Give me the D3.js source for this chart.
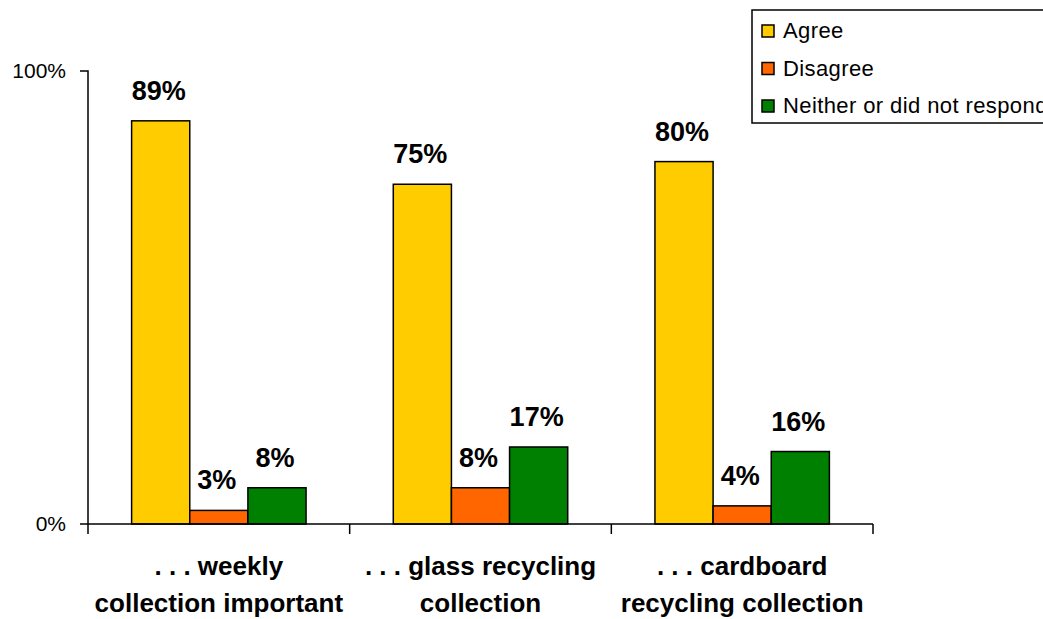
<!DOCTYPE html>
<html lang="en">
<head>
  <meta charset="utf-8">
  <title>Collection survey</title>
  <style>
    body { margin: 0; background: #fff; overflow: hidden; }
    svg { display: block; font-family: "Liberation Sans", Arial, sans-serif; }
  </style>
</head>
<body>
  <div id="chart"></div>

  <script src="https://d3js.org/d3.v7.min.js"></script>
  <script>
    // data
    const categories = ['weekly', 'glass', 'cardboard'];
    const categoryLabels = [
      ['. . . weekly', 'collection important'],
      ['. . . glass recycling', 'collection'],
      ['. . . cardboard', 'recycling collection']
    ];
    const series = ['Agree', 'Disagree', 'Neither or did not respond'];
    const agree = [0.89, 0.75, 0.80];
    const disagree = [0.03, 0.08, 0.04];
    const neither = [0.08, 0.17, 0.16];
    const yTicks = [0, 1];
    const colors = ['#FFCC00', '#FF6600', '#008000'];

    const width = 1043;
    const height = 619;
    const margin = { top: 71, right: 170, bottom: 95, left: 88 };

    const values = [agree, disagree, neither];
    const rows = [];
    categories.forEach((c, i) => {
      series.forEach((s, j) => {
        rows.push({ cat: c, series: s, value: values[j][i], color: colors[j] });
      });
    });

    const x0 = d3.scaleBand()
      .domain(categories)
      .range([margin.left, width - margin.right]);
    const x1 = d3.scaleBand()
      .domain(series)
      .range([0, x0.bandwidth()])
      .paddingOuter(0.75);
    const y = d3.scaleLinear()
      .domain([0, 1])
      .range([height - margin.bottom, margin.top]);

    const svg = d3.select('#chart').append('svg')
      .attr('width', width)
      .attr('height', height);

    // bars
    svg.append('g')
      .selectAll('rect')
      .data(rows)
      .join('rect')
      .attr('x', d => x0(d.cat) + x1(d.series))
      .attr('y', d => y(d.value))
      .attr('width', x1.bandwidth())
      .attr('height', d => y(0) - y(d.value))
      .attr('fill', d => d.color)
      .attr('stroke', '#000')
      .attr('stroke-width', 1.5);

    // value labels
    svg.append('g')
      .selectAll('text')
      .data(rows)
      .join('text')
      .attr('x', d => x0(d.cat) + x1(d.series) + x1.bandwidth() / 2 - 2)
      .attr('y', d => y(d.value) - 21)
      .attr('text-anchor', 'middle')
      .attr('font-size', 27)
      .attr('font-weight', 'bold')
      .text(d => Math.round(d.value * 100) + '%');

    // y axis
    const yAxis = d3.axisLeft(y)
      .tickValues(yTicks)
      .tickFormat(d3.format('.0%'))
      .tickSize(8)
      .tickPadding(12);
    const gy = svg.append('g')
      .attr('transform', `translate(${margin.left},0)`)
      .call(yAxis)
      .attr('font-size', 21)
      .attr('font-family', '"Liberation Sans", Arial, sans-serif');
    gy.select('.domain').attr('d', `M-8,${y(1)}H0V${y(0)}`).attr('stroke-width', 1.5);
    gy.selectAll('.tick line').remove();
    gy.selectAll('.tick text').attr('fill', '#000').attr('x', -22);

    // x axis
    const xAxis = d3.axisBottom(x0).tickSize(0).tickFormat('');
    const gx = svg.append('g')
      .attr('transform', `translate(0,${y(0)})`)
      .call(xAxis);
    gx.select('.domain').attr('d', `M${margin.left - 8},0H${width - margin.right}`).attr('stroke-width', 1.5);
    gx.selectAll('.tick').remove();

    // category separator ticks
    const edges = categories.map(c => x0(c)).concat([x0.range()[1]]);
    gx.selectAll('line.sep')
      .data(edges)
      .join('line')
      .attr('class', 'sep')
      .attr('x1', d => d).attr('x2', d => d)
      .attr('y1', 0).attr('y2', 10)
      .attr('stroke', '#000')
      .attr('stroke-width', 1.5);

    // category labels
    const labels = svg.append('g')
      .selectAll('text')
      .data(categories)
      .join('text')
      .attr('x', d => x0(d) + x0.bandwidth() / 2)
      .attr('y', y(0) + 51)
      .attr('text-anchor', 'middle')
      .attr('font-size', 26)
      .attr('font-weight', 'bold');
    labels.each(function (d, i) {
      const t = d3.select(this);
      categoryLabels[i].forEach((line, k) => {
        t.append('tspan')
          .attr('x', x0(d) + x0.bandwidth() / 2)
          .attr('dy', k === 0 ? 0 : 37)
          .text(line);
      });
    });

    // legend (runs past the right edge, as in the original)
    const legend = svg.append('g').attr('transform', 'translate(752,10)');
    legend.append('rect')
      .attr('x', 0).attr('y', 0)
      .attr('width', 400).attr('height', 113)
      .attr('fill', '#fff')
      .attr('stroke', '#000')
      .attr('stroke-width', 1.5);
    const items = legend.selectAll('g.item')
      .data(series)
      .join('g')
      .attr('class', 'item')
      .attr('transform', (d, i) => `translate(10,${15 + i * 37.5})`);
    items.append('rect')
      .attr('width', 12).attr('height', 12)
      .attr('fill', (d, i) => colors[i])
      .attr('stroke', '#000')
      .attr('stroke-width', 1.5);
    items.append('text')
      .attr('x', 21)
      .attr('y', 13)
      .attr('font-size', 22)
      .attr('letter-spacing', 0.4)
      .text(d => d);
  </script>
</body>
</html>
